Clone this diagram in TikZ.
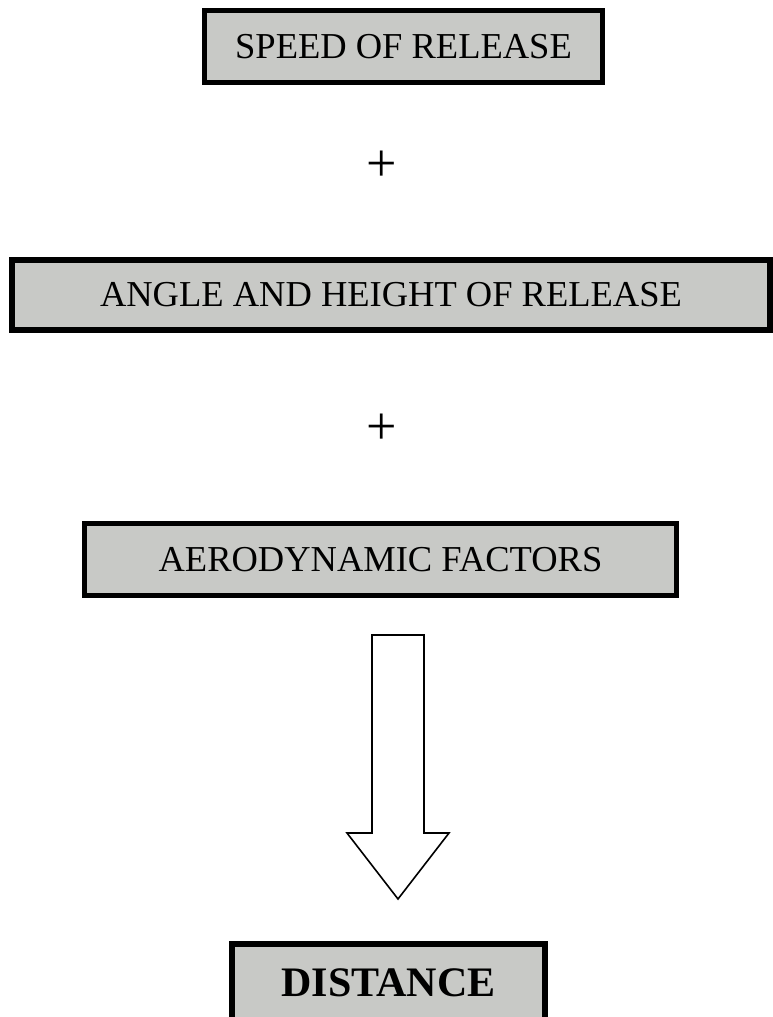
\documentclass[tikz,border=0pt]{standalone}
\usepackage{fontspec}
\setmainfont{Liberation Serif}
\definecolor{boxgray}{RGB}{200,201,198}
\tikzset{
  factorbox/.style={draw=black, fill=boxgray, rectangle, inner sep=0pt,
    font=\fontsize{36.5}{40}\selectfont},
  plussign/.style={inner sep=0pt, font=\fontsize{54}{56}\selectfont},
  blockarrow/.style={draw=black, fill=white, line width=1.6pt, line join=miter}
}
\begin{document}
\begin{tikzpicture}[x=1pt,y=-1pt]
\useasboundingbox (0,0) rectangle (773,1017);
\clip (0,0) rectangle (773,1017);
\node[factorbox, line width=5.2pt, minimum width=398pt, minimum height=72pt] (speed) at (403.5,46.5) {SPEED OF RELEASE};
\node[plussign] (plusA) at (382,166) {+};
\node[factorbox, line width=6pt, minimum width=758pt, minimum height=70.5pt] (angle) at (391,294.75) {ANGLE AND HEIGHT OF RELEASE};
\node[plussign] (plusB) at (382,429) {+};
\node[factorbox, line width=5.5pt, minimum width=592pt, minimum height=72pt] (aero) at (380.5,559.5) {AERODYNAMIC FACTORS};
\draw[blockarrow] (372,635) -- (424,635) -- (424,833) -- (449,833) -- (398,899) -- (347,833) -- (372,833) -- cycle;
\node[factorbox, line width=6pt, minimum width=313pt, minimum height=78pt, font=\fontsize{42}{46}\selectfont\bfseries] (dist) at (388.5,982.5) {DISTANCE};
\end{tikzpicture}
\end{document}
